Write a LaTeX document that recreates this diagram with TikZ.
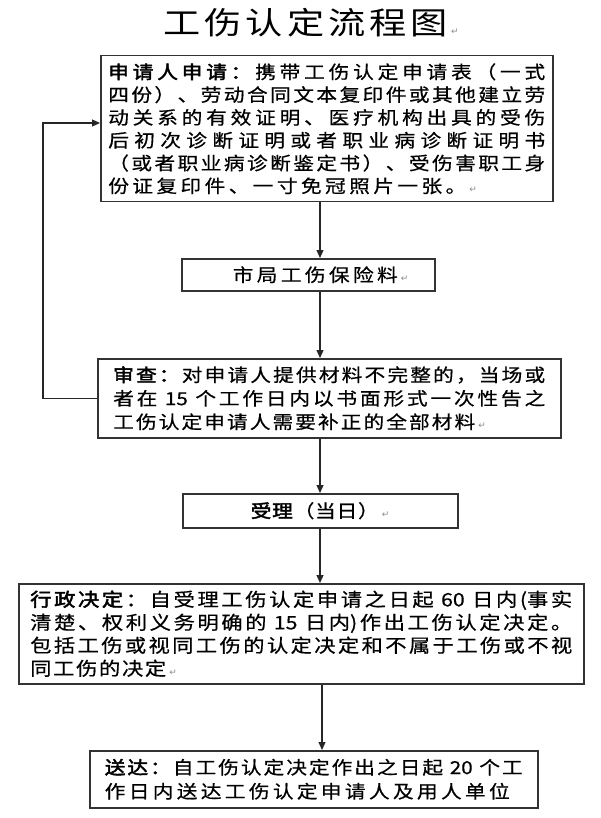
\documentclass[tikz,border=0pt]{standalone}
\usepackage{fontspec}
\newfontfamily\cjkr{Noto Sans CJK SC}[FakeStretch=1.15,FakeBold=0.6]
\newfontfamily\cjkt{Noto Sans CJK SC}[FakeStretch=1.2]
\newfontfamily\cjkb{Noto Sans CJK SC}[FakeStretch=1.15,FakeBold=2.5]
\newfontfamily\dejavu{DejaVu Sans}
\usetikzlibrary{arrows.meta}
\newcommand\Bf{\cjkb}
\newcommand\Nf{\cjkr}
\makeatletter
\def\jl@end{\jl@end}
\newif\ifjl@first
\newcommand\jl[2]{\hbox to #1{\jl@firsttrue\jl@loop#2\jl@end}}
\def\jl@loop#1{%
  \ifx\jl@end#1\let\jl@next\relax
  \else
    \ifx\Bf#1\else\ifx\Nf#1\else
      \ifjl@first\jl@firstfalse\else\hfil\fi
    \fi\fi
    #1%
    \let\jl@next\jl@loop
  \fi
  \jl@next}
\makeatother
\newcommand\retmark{\kern3pt{\dejavu\fontsize{9}{9}\selectfont\color{black!45}↵}}
\tikzset{
  box/.style={draw=black!80, line width=1.5pt, inner sep=0pt, anchor=north west,
    font=\fontsize{18}{20}\selectfont\cjkr},
  arr/.style={draw=black!85, line width=1.2pt, -{Triangle[length=8pt,width=7pt]}}
}
\begin{document}
\begin{tikzpicture}[x=1pt,y=-1pt]
\useasboundingbox[fill=white] (0,0) rectangle (600,818);
\node[anchor=west, inner sep=0pt, font=\fontsize{31}{34}\selectfont\cjkt] (title) at (163,23)
  {\jl{285pt}{工伤认定流程图}\retmark};
\node[box, minimum width=452pt, minimum height=146pt] (b1) at (100,55) {\vbox{\baselineskip=22.8pt
  \jl{437pt}{\Bf 申请人申请：\Nf 携带工伤认定申请表（一式}
  \jl{437pt}{四份）、劳动合同文本复印件或其他建立劳}
  \jl{437pt}{动关系的有效证明、医疗机构出具的受伤}
  \jl{437pt}{后初次诊断证明或者职业病诊断证明书}
  \jl{437pt}{（或者职业病诊断鉴定书）、受伤害职工身}
  \hbox{\jl{358pt}{份证复印件、一寸免冠照片一张。}\retmark}}};
\node[box, minimum width=253pt, minimum height=32pt] (b2) at (181,258)
  {\hbox to 253pt{\hskip 51pt\jl{165pt}{市局工伤保险料}\retmark\hfil}};
\node[box, minimum width=463pt, minimum height=79pt] (b3) at (97,358) {\vbox{\baselineskip=23.5pt
  \jl{432pt}{\Bf 审查：\Nf 对申请人提供材料不完整的，当场或}
  \jl{432pt}{者在{ 15 }个工作日内以书面形式一次性告之}
  \hbox{\jl{362pt}{工伤认定申请人需要补正的全部材料}\retmark}}};
\node[box, minimum width=275pt, minimum height=34pt] (b4) at (182,493)
  {\hbox to 275pt{\hskip 68pt\jl{128pt}{\Bf 受理\Nf （当日）}\retmark\hfil}};
\node[box, minimum width=565pt, minimum height=100pt, font=\fontsize{18.5}{20}\selectfont\cjkr] (b5) at (18,583) {\vbox{\baselineskip=23pt
  \jl{542pt}{\Bf 行政决定：\Nf 自受理工伤认定申请之日起{ 60 }日内{(事}实}
  \jl{542pt}{清楚、权利义务明确的{ 15 }日{内)}作出工伤认定决定。}
  \jl{542pt}{包括工伤或视同工伤的认定决定和不属于工伤或不视}
  \hbox{\jl{136pt}{同工伤的决定}\retmark}}};
\node[box, minimum width=448pt, minimum height=57pt] (b6) at (89,750) {\vbox{\baselineskip=24pt
  \jl{418pt}{\Bf 送达：\Nf 自工伤认定决定作出之日起{ 20 }个工}
  \hbox{\jl{405pt}{作日内送达工伤认定申请人及用人单位}}}};
\coordinate (ax) at (320,0);
\coordinate (ax2) at (322,0);
\coordinate (fb) at (43,123);
\draw[arr] (b1.south -| ax) -- (b2.north -| ax);
\draw[arr] (b2.south -| ax) -- (b3.north -| ax);
\draw[arr] (b3.south -| ax) -- (b4.north -| ax);
\draw[arr] (b4.south -| ax) -- (b5.north -| ax);
\draw[arr] (b5.south -| ax2) -- (b6.north -| ax2);
\draw[arr] (b3.west) -| (fb) -- (b1.west |- fb);
\end{tikzpicture}
\end{document}
